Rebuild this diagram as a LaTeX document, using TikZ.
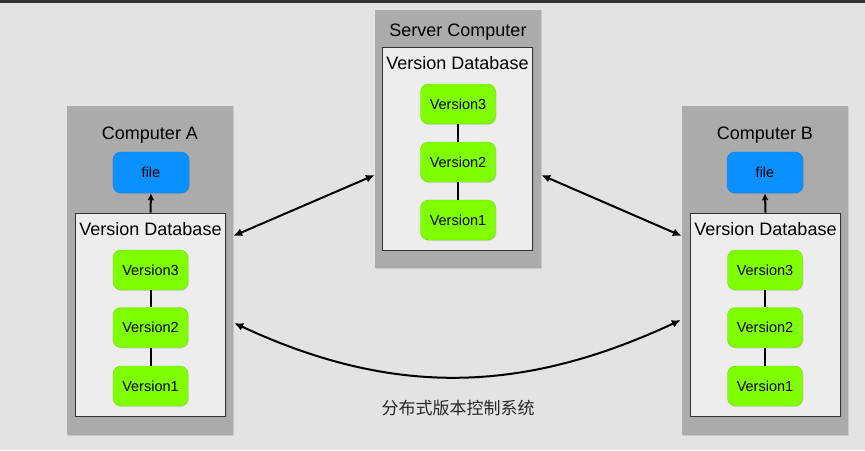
\documentclass[tikz,border=0pt]{standalone}
\usepackage{fontspec}
\setmainfont{Liberation Sans}
\newfontfamily\cjkfont{Noto Sans CJK SC}
\usetikzlibrary{shadows, arrows.meta}

\definecolor{versiongreen}{HTML}{80FF00}
\definecolor{fileblue}{HTML}{0A90FF}

\begin{document}
\begin{tikzpicture}[x=1pt, y=-1pt, >={Latex[length=9pt, width=8pt]}]

% --- Styles ---
\tikzset{
    computer/.style={fill=black!33, draw=none, inner sep=0pt, minimum width=166pt,
        drop shadow={opacity=0.25, shadow xshift=1pt, shadow yshift=-1pt}},
    database/.style={fill=black!7, draw=black!80, thick, inner sep=0pt,
        minimum width=150pt, minimum height=203pt,
        drop shadow={opacity=0.3, shadow xshift=1pt, shadow yshift=-1pt}},
    title/.style={font=\fontsize{18}{20}\selectfont, text=black},
    version/.style={fill=versiongreen, draw=versiongreen!85!black, rounded corners=8pt,
        minimum width=75pt, minimum height=40pt, inner sep=0pt,
        font=\fontsize{14.5}{16}\selectfont,
        drop shadow={opacity=0.2, shadow xshift=1pt, shadow yshift=-1pt}},
    file/.style={version, fill=fileblue, draw=fileblue!85!black, minimum width=76pt, minimum height=41pt},
    link/.style={draw=black, line width=2pt},
    fetch/.style={-{Latex[length=7pt, width=7pt]}, draw=black, line width=2pt},
    arrow/.style={<->, draw=black, line width=2pt}
}

% --- Achtergrond ---
\useasboundingbox[fill=black!11] (0,0) rectangle (865,450);
\fill[black!80] (0,0) rectangle (865,2.5);

% --- Computer A (Links) ---
\node[computer, minimum height=329pt] (compA) at (150,270.5) {};
\node[title] (titleA) at (150,135) {Computer A};
\node[file] (fileA) at (151,172.5) {file};
\node[database] (dbA) at (150.5,314.5) {};
\node[title] (dbtitleA) at (150.5,229) {Version Database};
\node[version] (v3A) at (150.5,270) {Version3};
\node[version] (v2A) at (150.5,327.5) {Version2};
\node[version] (v1A) at (150.5,386) {Version1};

% --- Server Computer (Midden) ---
\node[computer, minimum height=258pt] (server) at (458,139) {};
\node[title] (titleS) at (458,32) {Server Computer};
\node[database] (dbS) at (457.5,148.5) {};
\node[title] (dbtitleS) at (457.5,63) {Version Database};
\node[version] (v3S) at (458,104) {Version3};
\node[version] (v2S) at (458,162) {Version2};
\node[version] (v1S) at (458,220) {Version1};

% --- Computer B (Rechts) ---
\node[computer, minimum height=329pt] (compB) at (765,270.5) {};
\node[title] (titleB) at (765,135) {Computer B};
\node[file] (fileB) at (765,172.5) {file};
\node[database] (dbB) at (765.5,314.5) {};
\node[title] (dbtitleB) at (765.5,229) {Version Database};
\node[version] (v3B) at (765,270) {Version3};
\node[version] (v2B) at (765,327.5) {Version2};
\node[version] (v1B) at (765,386) {Version1};

% --- Versielijnen ---
\draw[link] (v3A) -- (v2A) (v2A) -- (v1A);
\draw[link] (v3S) -- (v2S) (v2S) -- (v1S);
\draw[link] (v3B) -- (v2B) (v2B) -- (v1B);

% --- Uitchecken naar file ---
\draw[fetch] (dbA.north) -- (fileA.south);
\draw[fetch] (dbB.north) -- (fileB.south);

% --- Synchronisatie ---
\draw[arrow] ([yshift=34.5pt]compA.east) -- ([yshift=-36pt]server.west);
\draw[arrow] ([yshift=-36pt]server.east) -- ([yshift=34.5pt]compB.west);
\draw[arrow] ([yshift=-52.5pt, xshift=1pt]compA.east) to[out=-25, in=205] ([yshift=-49.5pt, xshift=-1pt]compB.west);

% --- Onderschrift ---
\node[font=\cjkfont\fontsize{17}{20}\selectfont, text=black!85] (caption) at (458,408) {分布式版本控制系统};

\end{tikzpicture}
\end{document}
